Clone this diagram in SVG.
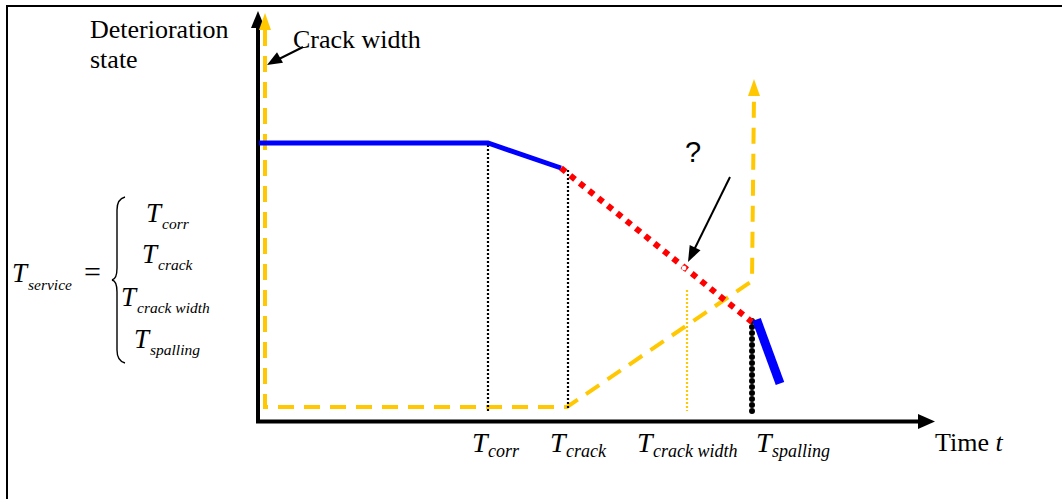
<svg xmlns="http://www.w3.org/2000/svg" width="1062" height="499" viewBox="0 0 1062 499">
<style>
.serif{font-family:"Liberation Serif","Times New Roman",serif;fill:#000}
.it{font-style:italic}
.big{font-size:26px}
.tl{font-size:27px}
.sl{font-size:15.5px}
.tb{font-size:28px}
.sb{font-size:18px}
.yel{stroke:#FFC800;fill:none}
.blue{stroke:#0000FF;fill:none}
</style>
<rect x="7" y="6" width="1100" height="600" fill="#fff" stroke="#000" stroke-width="2"/>
<g id="axes">
  <line x1="258" y1="26" x2="258" y2="422" stroke="#000" stroke-width="4"/>
  <polygon points="251,28 258,11 265,28" fill="#000"/>
  <line x1="256" y1="421.5" x2="920" y2="421.5" stroke="#000" stroke-width="4"/>
  <polygon points="918,414 935,421.5 918,429" fill="#000"/>
</g>
<g id="crack-width-curve">
  <path class="yel" d="M265,30 L265,407 L567,407 L752,281 L754,95" stroke-width="4" stroke-dasharray="16 10"/>
  <polygon points="259,30 265,13 271,30" fill="#FFC800"/>
  <polygon points="748,96 754,79 760,96" fill="#FFC800"/>
</g>
<g id="guides">
  <line x1="488" y1="145" x2="488" y2="411" stroke="#000" stroke-width="2.2" stroke-dasharray="2 2"/>
  <line x1="568" y1="170" x2="568" y2="408" stroke="#000" stroke-width="2.2" stroke-dasharray="2 2"/>
  <line x1="687" y1="290" x2="687" y2="411" stroke="#FFC800" stroke-width="2.2" stroke-dasharray="2 2"/>
  <line x1="752" y1="321" x2="752" y2="413" stroke="#000" stroke-width="6" stroke-linecap="round" stroke-dasharray="0 6"/>
</g>
<g id="deterioration-curve">
  <polyline class="blue" points="259,143 488,143 561,168" stroke-width="5"/>
  <line x1="561" y1="168" x2="752" y2="322" stroke="#FF0000" stroke-width="6" stroke-dasharray="6 6"/>
  <circle cx="684" cy="268" r="2.5" fill="#fff" stroke="#FF0000" stroke-width="0.8" stroke-dasharray="1 1"/>
  <line class="blue" x1="756.5" y1="319.5" x2="780" y2="383.5" stroke-width="9"/>
</g>
<g id="connectors">
  <line x1="730" y1="177" x2="694" y2="250" stroke="#000" stroke-width="2"/>
  <polygon points="688,262 689.7,244.9 700.5,250.3" fill="#000"/>
  <line x1="303" y1="47" x2="279" y2="59" stroke="#000" stroke-width="2"/>
  <polygon points="267,65 277,52.3 283,62.7" fill="#000"/>
</g>
<g id="labels">
  <text class="serif big" x="90" y="38">Deterioration</text>
  <text class="serif big" x="90" y="68">state</text>
  <text class="serif big" x="293" y="48">Crack width</text>
  <text x="685" y="162" font-family="Liberation Sans, Arial, sans-serif" font-size="29">?</text>
  <text class="serif big" x="935" y="451">Time <tspan class="it">t</tspan></text>
</g>
<g id="time-labels">
  <text class="serif it tb" x="472" y="452">T</text><text class="serif it sb" x="488" y="457">corr</text>
  <text class="serif it tb" x="550" y="452">T</text><text class="serif it sb" x="566" y="457">crack</text>
  <text class="serif it tb" x="637" y="452">T</text><text class="serif it sb" x="653" y="457">crack width</text>
  <text class="serif it tb" x="756" y="452">T</text><text class="serif it sb" x="772" y="457">spalling</text>
</g>
<g id="formula">
  <text class="serif it tl" x="12" y="282">T</text><text class="serif it sl" x="28" y="290">service</text>
  <text class="serif" font-size="30" x="84" y="282">=</text>
  <path d="M125,197 Q117,199 117,210 L117,268 Q117,279 112,280 Q117,281 117,292 L117,350 Q117,361 125,363" fill="none" stroke="#000" stroke-width="1.4"/>
  <text class="serif it tl" x="146" y="222">T</text><text class="serif it sl" x="162" y="229">corr</text>
  <text class="serif it tl" x="142" y="263">T</text><text class="serif it sl" x="158" y="270">crack</text>
  <text class="serif it tl" x="121" y="306">T</text><text class="serif it sl" x="137" y="313">crack width</text>
  <text class="serif it tl" x="134" y="348">T</text><text class="serif it sl" x="150" y="355">spalling</text>
</g>
</svg>
